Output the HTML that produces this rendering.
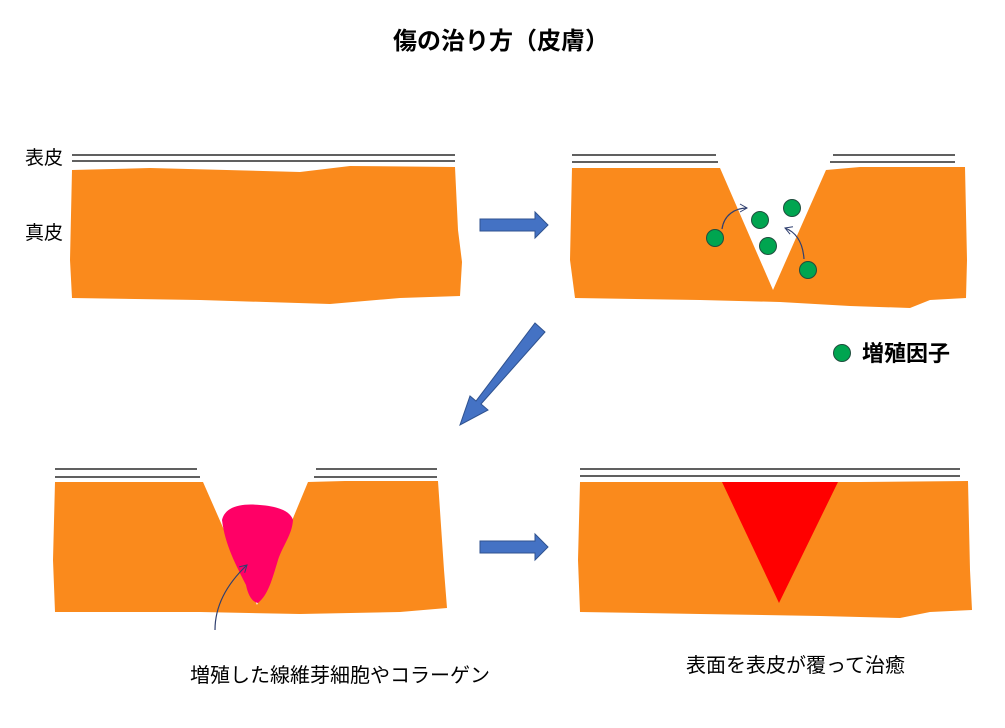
<!DOCTYPE html>
<html><head><meta charset="utf-8"><style>
body{margin:0;background:#fff;}
svg{display:block;}
text{font-family:"Liberation Sans","Noto Sans CJK JP",sans-serif;fill:#000;}
</style></head><body>
<svg width="1005" height="728" viewBox="0 0 1005 728" xmlns="http://www.w3.org/2000/svg">
<defs>
<marker id="ah" markerWidth="10" markerHeight="10" refX="8" refY="5" orient="auto" markerUnits="userSpaceOnUse">
<path d="M1,1 L8,5 L1,9" fill="none" stroke="#2F3F6F" stroke-width="1"/>
</marker>
</defs>
<text x="501" y="49" font-size="24" text-anchor="middle" font-weight="bold">傷の治り方（皮膚）</text>

<!-- Panel 1 -->
<text x="25" y="164" font-size="19">表皮</text>
<text x="25" y="239" font-size="19">真皮</text>
<g stroke="#000" stroke-width="1.3">
<line x1="72" y1="155" x2="455" y2="155"/><line x1="72" y1="161" x2="455" y2="161"/>
</g>
<path d="M72,170 L150,168 L300,172 L350,166 L455,167 L458,230 L462,262 L460,296 L400,298 L330,304 L200,300 L72,298 L70,260 Z" fill="#FA8A1C"/>

<path d="M480,219 L535,219 L535,212 L548,225 L535,238 L535,231 L480,231 Z" fill="#4472C4" stroke="#2F528F" stroke-width="1"/>

<!-- Panel 2 -->
<g stroke="#000" stroke-width="1.3">
<line x1="572" y1="155" x2="716" y2="155"/><line x1="572" y1="162" x2="718" y2="162"/>
<line x1="833" y1="155" x2="955" y2="155"/><line x1="830" y1="162" x2="955" y2="162"/>
</g>
<path d="M572,168 L720,168 L773,290 L826,170 L860,167 L965,167 L967,260 L966,298 L930,300 L910,308 L850,306 L780,302 L700,300 L575,298 L570,260 Z" fill="#FA8A1C"/>
<g fill="#00A550" stroke="#1F4E3D" stroke-width="1">
<circle cx="715" cy="238" r="8.5"/><circle cx="760" cy="220" r="8.5"/><circle cx="792" cy="208" r="8.5"/>
<circle cx="768" cy="246" r="8.5"/><circle cx="808" cy="270" r="8.5"/>
<circle cx="842" cy="353" r="8.5"/>
</g>
<path d="M722,229 C724,215 735,208 747,208" fill="none" stroke="#2F3F6F" stroke-width="1.2" marker-end="url(#ah)"/>
<path d="M804,259 C803,245 798,233 785,228" fill="none" stroke="#2F3F6F" stroke-width="1.2" marker-end="url(#ah)"/>
<text x="862" y="361" font-size="22" font-weight="bold">増殖因子</text>

<path d="M535,323 L545,332 L481,404 L488,410 L460,425 L470,396 L476,401 Z" fill="#4472C4" stroke="#2F528F" stroke-width="1"/>

<!-- Panel 3 -->
<g stroke="#000" stroke-width="1.3">
<line x1="55" y1="469" x2="197" y2="469"/><line x1="55" y1="477" x2="200" y2="477"/>
<line x1="316" y1="469" x2="437" y2="469"/><line x1="314" y1="477" x2="437" y2="477"/>
</g>
<path d="M55,482 L203,482 L257,605 L308,482 L345,481 L438,481 L444,570 L447,608 L400,612 L300,614 L200,612 L55,612 L53,560 Z" fill="#FA8A1C"/>
<path d="M222,520 C225,507 240,503 260,505 C275,506 290,510 293,520 C292,535 283,545 278,560 C272,580 268,595 258,603 C252,602 248,595 246,585 C236,565 225,545 222,520 Z" fill="#FF0066"/>
<path d="M215,630 C215,605 228,583 247,565" fill="none" stroke="#2F3F6F" stroke-width="1.2" marker-end="url(#ah)"/>
<text x="190" y="682" font-size="20">増殖した線維芽細胞やコラーゲン</text>

<path d="M480,541 L535,541 L535,534 L548,547 L535,560 L535,553 L480,553 Z" fill="#4472C4" stroke="#2F528F" stroke-width="1"/>

<!-- Panel 4 -->
<g stroke="#000" stroke-width="1.3">
<line x1="580" y1="469" x2="960" y2="469"/><line x1="580" y1="476" x2="960" y2="476"/>
</g>
<path d="M580,482 L700,482 L860,482 L968,481 L970,570 L972,610 L930,612 L900,618 L820,616 L700,614 L580,612 L578,560 Z" fill="#FA8A1C"/>
<path d="M722,482 L838,482 L779,603 Z" fill="#FF0000"/>
<text x="686" y="672" font-size="20">表面を表皮が覆って治癒</text>
</svg>
</body></html>
